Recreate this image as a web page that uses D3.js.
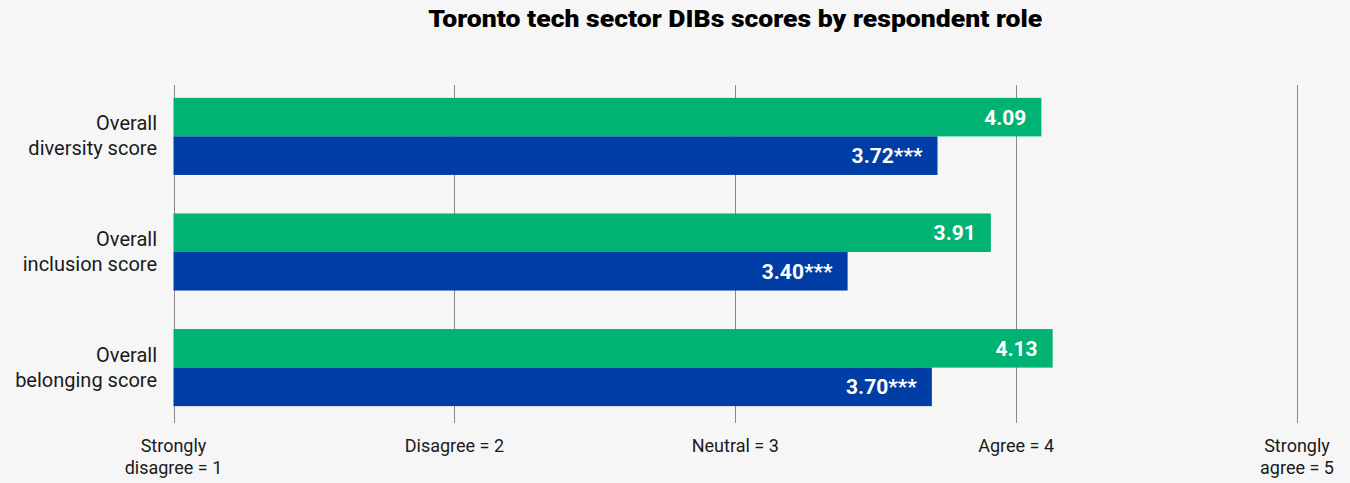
<!DOCTYPE html>
<html>
<head>
<meta charset="utf-8">
<script src="https://cdn.jsdelivr.net/npm/d3@7"></script>
<style>
  html, body { margin: 0; padding: 0; background: #f6f6f6; }
  svg { display: block; }
</style>
</head>
<body>
<svg id="chart" width="1350" height="483"></svg>
<script>
// ---- data ----
const title = "Toronto tech sector DIBs scores by respondent role";
const categories = [
  ["Overall", "diversity score"],
  ["Overall", "inclusion score"],
  ["Overall", "belonging score"]
];
const seriesNames = ["Respondent group A", "Respondent group B"];
const seriesA = [4.09, 3.91, 4.13];
const seriesB = [3.72, 3.40, 3.70];
const significance = ["", "***"];
const tickValues = [1, 2, 3, 4, 5];
const tickLabels = [
  ["Strongly", "disagree = 1"],
  ["Disagree = 2"],
  ["Neutral = 3"],
  ["Agree = 4"],
  ["Strongly", "agree = 5"]
];

// ---- chart ----
const colors = ["#00b373", "#003da5"];
const svg = d3.select("#chart");
const W = 1350, H = 483;
svg.append("rect").attr("width", W).attr("height", H).attr("fill", "#f6f6f6");

const x = d3.scaleLinear().domain([1, 5]).range([173.5, 1297]);
const catKeys = categories.map(c => c.join(" "));
const y = d3.scaleBand().domain(catKeys).range([84, 420]).paddingInner(1/3).paddingOuter(0.12);
const ySub = d3.scaleBand().domain(seriesNames).range([0, y.bandwidth()]);

const gridTop = 85, gridBottom = 423;

// gridlines
svg.append("g").selectAll("line").data(tickValues).join("line")
  .attr("x1", d => Math.round(x(d)) + 0.5).attr("x2", d => Math.round(x(d)) + 0.5)
  .attr("y1", gridTop).attr("y2", gridBottom)
  .attr("stroke", "#8a8a8a").attr("stroke-width", 1);

// axis labels (bottom)
const axisG = svg.append("g");
tickValues.forEach((t, i) => {
  const txt = axisG.append("text")
    .attr("x", x(t)).attr("y", 452)
    .attr("text-anchor", "middle")
    .attr("font-family", "Roboto, 'Noto Sans', sans-serif")
    .attr("font-size", 18).attr("fill", "#1a1a1a");
  tickLabels[i].forEach((line, j) => {
    txt.append("tspan").attr("x", x(t)).attr("dy", j === 0 ? 0 : 22).text(line);
  });
});

// bars
const data = categories.map((c, i) => ({
  key: catKeys[i], label: c,
  values: [
    { series: seriesNames[0], value: seriesA[i], sig: significance[0], color: colors[0] },
    { series: seriesNames[1], value: seriesB[i], sig: significance[1], color: colors[1] }
  ]
}));

const groups = svg.append("g").selectAll("g").data(data).join("g")
  .attr("transform", d => `translate(0,${y(d.key)})`);

groups.selectAll("rect").data(d => d.values).join("rect")
  .attr("x", x(1)).attr("y", d => ySub(d.series))
  .attr("width", d => x(d.value) - x(1))
  .attr("height", ySub.bandwidth())
  .attr("fill", d => d.color);

groups.selectAll("text.val").data(d => d.values).join("text")
  .attr("class", "val")
  .attr("x", d => x(d.value) - 15)
  .attr("y", d => ySub(d.series) + ySub.bandwidth() / 2)
  .attr("dy", "0.36em")
  .attr("text-anchor", "end")
  .attr("font-family", "Roboto, sans-serif")
  .attr("font-weight", 700)
  .attr("font-size", 21)
  .attr("fill", "#ffffff")
  .text(d => d.value.toFixed(2) + d.sig);

// category labels
groups.append("text")
  .attr("text-anchor", "end")
  .attr("font-family", "Roboto, 'Noto Sans', sans-serif")
  .attr("font-size", 20).attr("fill", "#1a1a1a")
  .each(function(d) {
    const t = d3.select(this);
    d.label.forEach((line, j) => {
      t.append("tspan").attr("x", 157).attr("y", y.bandwidth() / 2 - 6 + j * 25).text(line);
    });
  });

// title
const tt = svg.append("text")
  .attr("x", x(3)).attr("y", 27)
  .attr("text-anchor", "middle")
  .attr("font-family", "Roboto, sans-serif")
  .attr("font-weight", 900)
  .attr("font-size", 24)
  .attr("fill", "#000")
  .text(title);
const len = tt.node().getComputedTextLength();
if (Math.abs(len - 614) > 4) {
  tt.attr("textLength", 614).attr("lengthAdjust", "spacingAndGlyphs");
}
</script>
</body>
</html>
